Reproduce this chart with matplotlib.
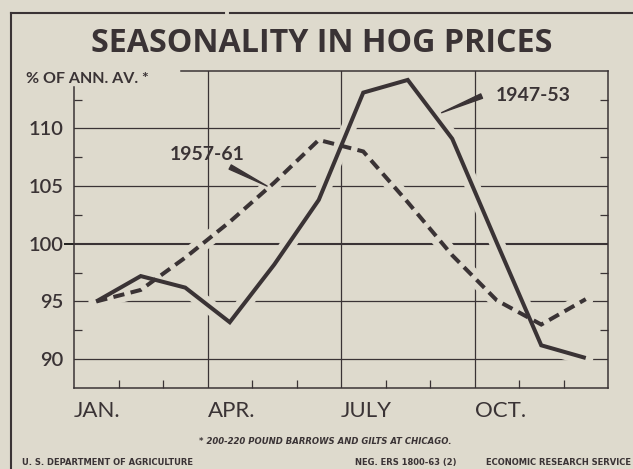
import matplotlib
matplotlib.use('Agg')
import matplotlib.pyplot as plt
import numpy as np
from matplotlib.lines import Line2D

# ---- data ----
month_labels = ['JAN.', 'APR.', 'JULY', 'OCT.']
month_label_pos = [0, 3, 6, 9]
minor_month_pos = [1, 2, 4, 5, 7, 8, 10, 11]
hog_1947_53 = [95.0, 97.2, 96.2, 93.2, 98.2, 103.8, 113.1, 114.2, 109.1, 100.1, 91.2, 90.1]
hog_1957_61 = [95.0, 96.0, 98.8, 101.9, 105.3, 109.0, 108.0, 103.6, 99.0, 95.1, 93.0, 95.2]
y_ticks = [90, 95, 100, 105, 110]
y_minor = [92.5, 97.5, 102.5, 107.5, 112.5]

BG = '#dedacd'
INK = '#3a3335'

plt.rcParams['font.family'] = ['Lato', 'DejaVu Sans']

W, H = 633, 469
fig = plt.figure(figsize=(W / 100, H / 100), dpi=100, facecolor=BG)
L, R, T, B = 74, 608, 70.7, 388
ax = fig.add_axes([L / W, 1 - B / H, (R - L) / W, (B - T) / H])
ax.set_facecolor(BG)
ax.set_xlim(0, 12)
ax.set_ylim(87.5, 115)

x = np.arange(len(hog_1947_53)) + 0.5

# grid
for yv in y_ticks:
    ax.axhline(yv, color=INK, lw=1.5 if yv == 100 else 0.9, zorder=1)
for xv in month_label_pos[1:]:
    ax.axvline(xv, color=INK, lw=0.9, zorder=1)

# halo masks (gaps in grid around curves)
ax.plot(x, hog_1947_53, color=BG, lw=11, solid_capstyle='round', zorder=2)
ax.plot(x, hog_1957_61, color=BG, lw=11, solid_capstyle='round', zorder=2)

# data lines
ax.plot(x, hog_1947_53, color=INK, lw=2.9, solid_joinstyle='miter',
        solid_capstyle='butt', zorder=4)
ax.plot(x, hog_1957_61, color=INK, lw=2.9, linestyle=(0, (2.8, 1.6)),
        dash_capstyle='butt', dash_joinstyle='miter', zorder=4)

# spines
for s in ax.spines.values():
    s.set_color(INK)
    s.set_linewidth(1.1)
ax.spines['left'].set_bounds(87.5, 113.6)
ax.spines['top'].set_bounds(2.4, 12)

# ticks
ax.set_yticks(y_ticks)
ax.set_yticklabels([str(v) for v in y_ticks], fontsize=14.5, color=INK,
                   fontweight='semibold')
ax.tick_params(axis='y', which='major', length=0, pad=7.5)
for tk, yv in zip(ax.yaxis.get_major_ticks(), y_ticks):
    if yv == 100:
        tk.tick1line.set_markersize(7.5)
        tk.tick1line.set_markeredgewidth(1.2)
        tk.tick1line.set_color(INK)
ax.set_yticks(y_minor, minor=True)
ax.tick_params(axis='y', which='minor', direction='in', length=6, width=0.9,
               color=INK, left=True, right=True)
ax.set_xticks(minor_month_pos, minor=True)
ax.set_xticks([])
ax.tick_params(axis='x', which='minor', direction='in', length=6, width=0.9,
               color=INK, bottom=True, top=False)

xtr = ax.get_xaxis_transform()
for pos, lab in zip(month_label_pos, month_labels):
    ax.text(pos + 0.0, -(416.7 - B) / (B - T), lab, transform=xtr, ha='left',
            va='baseline', fontsize=16, color=INK)

# annotations
ax.text(2.99, 107.75, '1957-61', fontsize=14, fontweight='bold', color=INK,
        ha='center', va='center')
ax.annotate('', xy=(4.34, 105.0), xytext=(3.51, 106.65),
            arrowprops=dict(arrowstyle='wedge,tail_width=0.17', color=INK,
                            mutation_scale=20, shrinkA=0, shrinkB=0), zorder=5)
ax.text(10.31, 112.85, '1947-53', fontsize=14, fontweight='bold', color=INK,
        ha='center', va='center')
ax.annotate('', xy=(8.26, 111.36), xytext=(9.16, 112.8),
            arrowprops=dict(arrowstyle='wedge,tail_width=0.17', color=INK,
                            mutation_scale=20, shrinkA=0, shrinkB=0), zorder=5)

# texts
fig.text(322 / W, 1 - 52 / H, 'SEASONALITY IN HOG PRICES', ha='center',
         va='baseline', fontsize=23.2, fontweight='bold', color=INK,
         family=['Open Sans', 'DejaVu Sans'])
fig.text(26 / W, 1 - 83 / H, '% OF ANN. AV. *', ha='left', va='baseline',
         fontsize=11.5, fontweight='bold', color=INK)
fig.text(325 / W, 1 - 443.5 / H, '* 200-220 POUND BARROWS AND GILTS AT CHICAGO.',
         ha='center', va='baseline', fontsize=6.1, fontweight='bold',
         fontstyle='italic', color=INK, family='DejaVu Sans')
fig.text(22 / W, 1 - 465 / H, 'U. S. DEPARTMENT OF AGRICULTURE', ha='left',
         va='baseline', fontsize=6, fontweight='bold', color=INK, family='DejaVu Sans')
fig.text(355 / W, 1 - 465 / H, 'NEG. ERS 1800-63 (2)', ha='left',
         va='baseline', fontsize=6, fontweight='bold', color=INK, family='DejaVu Sans')
fig.text(631 / W, 1 - 465 / H, 'ECONOMIC RESEARCH SERVICE', ha='right',
         va='baseline', fontsize=6, fontweight='bold', color=INK, family='DejaVu Sans')

# outer frame
fig.add_artist(Line2D([11 / W, 11 / W], [0, 1 - 13 / H], color=INK, lw=1.5,
                      transform=fig.transFigure))
fig.add_artist(Line2D([11 / W, 224 / W], [1 - 13 / H, 1 - 13 / H], color=INK,
                      lw=1.5, transform=fig.transFigure))
fig.add_artist(Line2D([230 / W, 1], [1 - 13 / H, 1 - 13 / H], color=INK,
                      lw=1.5, transform=fig.transFigure))

fig.savefig('out.png', dpi=100, facecolor=BG)
